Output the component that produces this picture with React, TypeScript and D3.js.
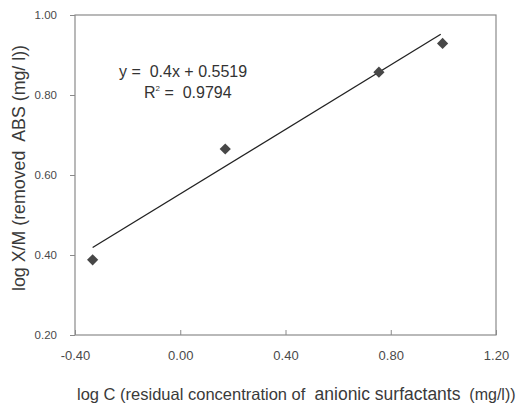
import React, { useEffect, useRef } from 'react';
import * as d3 from 'd3';

// measured points
const logC = [-0.333, 0.171, 0.755, 0.997];
const logXM = [0.388, 0.665, 0.857, 0.929];

const xTicks = [-0.4, 0, 0.4, 0.8, 1.2];
const yTicks = [0.2, 0.4, 0.6, 0.8, 1.0];

// linear fit shown on the chart
const slope = 0.4;
const intercept = 0.5519;
const rSquared = 0.9794;

const fmt = (d: d3.NumberValue) => d3.format('.2f')(d as number).replace('\u2212', '-');

const App = () => {
  const chartRef = useRef<HTMLDivElement>(null);

  useEffect(() => {
    const width = 522;
    const height = 406;
    const margin = { top: 15, right: 26, bottom: 71, left: 75 };
    const font = 'Arial, "Liberation Sans", sans-serif';

    d3.select(chartRef.current).select('svg').remove();

    const svg = d3
      .select(chartRef.current)
      .append('svg')
      .attr('width', width)
      .attr('height', height)
      .style('display', 'block')
      .style('font-family', font);

    svg.append('rect').attr('width', width).attr('height', height).attr('fill', '#fff');

    const x = d3.scaleLinear().domain([-0.4, 1.2]).range([margin.left, width - margin.right]);
    const y = d3.scaleLinear().domain([0.2, 1.0]).range([height - margin.bottom, margin.top]);

    // plot area border
    svg
      .append('rect')
      .attr('x', x(-0.4))
      .attr('y', y(1.0))
      .attr('width', x(1.2) - x(-0.4))
      .attr('height', y(0.2) - y(1.0))
      .attr('fill', 'none')
      .attr('stroke', '#8a8a8a')
      .attr('stroke-width', 1.2);

    // y axis ticks + labels
    const yAxis = d3.axisLeft(y).tickValues(yTicks).tickSize(5).tickPadding(13).tickFormat(fmt);
    const gy = svg.append('g').attr('transform', `translate(${x(-0.4)},0)`).call(yAxis);
    gy.select('.domain').remove();
    gy.selectAll('line').attr('stroke', '#8a8a8a');
    gy.selectAll('text').attr('fill', '#4a4a4a').style('font-size', '11.5px').style('font-family', font);

    // x axis ticks + labels
    const xAxis = d3.axisBottom(x).tickValues(xTicks).tickSize(-5).tickPadding(16).tickFormat(fmt);
    const gx = svg.append('g').attr('transform', `translate(0,${y(0.2)})`).call(xAxis);
    gx.select('.domain').remove();
    gx.selectAll('line').attr('stroke', '#8a8a8a');
    gx.selectAll('text').attr('fill', '#4a4a4a').style('font-size', '13px').style('font-family', font);

    // trend line across the data range
    const [x0, x1] = d3.extent(logC) as [number, number];
    svg
      .append('line')
      .attr('x1', x(x0))
      .attr('y1', y(slope * x0 + intercept))
      .attr('x2', x(x1 - 0.007))
      .attr('y2', y(slope * (x1 - 0.007) + intercept + 0.004))
      .attr('stroke', '#222')
      .attr('stroke-width', 1.3);

    // diamond markers
    const diamond = d3.symbol().type(d3.symbolDiamond2).size(80);
    svg
      .selectAll('path.pt')
      .data(logC)
      .enter()
      .append('path')
      .attr('class', 'pt')
      .attr('d', diamond)
      .attr('transform', (d, i) => `translate(${x(d)},${y(logXM[i])})`)
      .attr('fill', '#474747');

    // equation
    svg
      .append('text')
      .attr('x', 119)
      .attr('y', 77)
      .attr('fill', '#333')
      .style('font-size', '16px')
      .attr('xml:space', 'preserve')
      .text(`y =  ${slope}x + ${intercept}`);

    const r2 = svg
      .append('text')
      .attr('x', 144)
      .attr('y', 98)
      .attr('fill', '#333')
      .style('font-size', '16px')
      .attr('xml:space', 'preserve');
    r2.append('tspan').text('R');
    r2.append('tspan').attr('dy', -7).style('font-size', '8px').text('2');
    r2.append('tspan').attr('dy', 7).text(` =  ${rSquared}`);

    // y axis title
    svg
      .append('text')
      .attr('transform', `translate(25,168) rotate(-90)`)
      .attr('text-anchor', 'middle')
      .attr('fill', '#3a3a3a')
      .style('font-size', '17.8px')
      .attr('xml:space', 'preserve')
      .text('log X/M (removed  ABS (mg/ l))');

    // x axis title
    const xt = svg
      .append('text')
      .attr('x', 77)
      .attr('y', 400)
      .attr('fill', '#3a3a3a')
      .style('font-size', '16.5px')
      .attr('xml:space', 'preserve');
    xt.append('tspan').text('log C (residual concentration of  ');
    xt.append('tspan').style('font-size', '17.5px').text('anionic surfactants');
    xt.append('tspan').style('font-size', '16px').text('  (mg/l))');
  }, []);

  return (
    <div style={{ position: 'absolute', left: 0, top: 0 }}>
      <div ref={chartRef}></div>
    </div>
  );
};

export default App;
